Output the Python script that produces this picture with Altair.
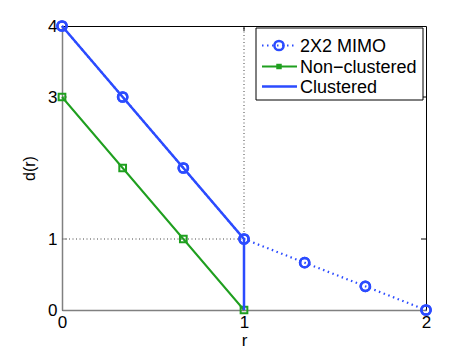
import altair as alt
import pandas as pd

# ---- data ----
r_mimo = [0, 1/3, 2/3, 1, 4/3, 5/3, 2]
d_mimo = [4, 3, 2, 1, 2/3, 1/3, 0]
r_non = [0, 1/3, 2/3, 1]
d_non = [3, 2, 1, 0]
r_clu = [0, 1, 1]
d_clu = [4, 1, 0]
x_ticks = [0, 1, 2]
y_ticks = [0, 1, 3, 4]
series_names = ["2X2 MIMO", "Non\u2212clustered", "Clustered"]

BLUE = "#2b4bff"
GREEN = "#1f9f1f"
FONT = "Liberation Sans"
W, H = 364, 284

xs = alt.Scale(domain=[0, 2], nice=False)
ys = alt.Scale(domain=[0, 4], nice=False)

mimo = pd.DataFrame({"r": r_mimo, "d": d_mimo, "o": range(len(r_mimo))})
non = pd.DataFrame({"r": r_non, "d": d_non, "o": range(len(r_non))})
clu = pd.DataFrame({"r": r_clu, "d": d_clu, "o": range(len(r_clu))})

# reference dotted lines: vertical at r=1 (d 1..4), horizontal at d=1 (r 0..1)
refs = pd.DataFrame({"r": [1, 0], "r2": [1, 1], "d": [1, 1], "d2": [4, 1]})

x_axis = alt.Axis(values=x_ticks, labelExpr="format(datum.value, '.0f')", title="r", grid=False, ticks=False,
                  labelFlush=False, labelOverlap=False, labelBound=False,
                  domainColor="#808080", domainWidth=1.5,
                  labelFontSize=17, labelPadding=4, labelFont=FONT,
                  titleFont=FONT, titleFontSize=17, titleFontWeight="normal",
                  titlePadding=2, labelColor="black", titleColor="black")
y_axis = alt.Axis(values=y_ticks, labelExpr="format(datum.value, '.0f')", title="d(r)", grid=False, ticks=False,
                  labelFlush=False, labelOverlap=False, labelBound=False,
                  domainColor="#808080", domainWidth=1.5,
                  labelFontSize=17, labelPadding=5, labelFont=FONT,
                  titleFont=FONT, titleFontSize=16, titleFontWeight="normal",
                  titlePadding=10, labelColor="black", titleColor="black")

def X(f="r:Q"):
    return alt.X(f, scale=xs, axis=x_axis)

def Y(f="d:Q"):
    return alt.Y(f, scale=ys, axis=y_axis)

ref_layer = alt.Chart(refs).mark_rule(color="#444", strokeWidth=1, strokeDash=[1, 2.5]).encode(
    x=X(), y=Y(), x2="r2:Q", y2="d2:Q")

# inward ticks
tick_y = pd.DataFrame({"d": [1, 3]})
tick_x = pd.DataFrame({"r": [1]})
left_ticks = alt.Chart(tick_y).mark_rule(color="#808080", strokeWidth=1).encode(
    y=Y(), x=alt.value(0), x2=alt.value(5))
right_ticks = alt.Chart(tick_y).mark_rule(color="black", strokeWidth=1).encode(
    y=Y(), x=alt.value(W), x2=alt.value(W - 5))
top_ticks = alt.Chart(tick_x).mark_rule(color="black", strokeWidth=1).encode(
    x=X(), y=alt.value(0), y2=alt.value(5))

mimo_line = alt.Chart(mimo).mark_line(color=BLUE, strokeWidth=2.2, strokeDash=[1.5, 3.5]).encode(
    x=X(), y=Y(), order="o:Q")
mimo_pts = alt.Chart(mimo).mark_point(shape="circle", size=85, filled=False, color=BLUE,
                                      strokeWidth=2.5, opacity=1).encode(x=X(), y=Y())
non_line = alt.Chart(non).mark_line(color=GREEN, strokeWidth=2).encode(
    x=X(), y=Y(), order="o:Q")
non_pts = alt.Chart(non).mark_point(shape="square", size=45, filled=False, color=GREEN,
                                    strokeWidth=2, opacity=1).encode(x=X(), y=Y())
clu_line = alt.Chart(clu).mark_line(color=BLUE, strokeWidth=2.5).encode(
    x=X(), y=Y(), order="o:Q")

# ---- legend (manual, MATLAB style) ----
one = alt.Data(values=[{}])
LX0, LX1, LY0, LY1 = 194, 361, 2, 74
row_y = [19.5, 40.5, 60.5]
sym_x0, sym_x1, sym_xc, txt_x = 200, 235, 217, 238

leg = [alt.Chart(one).mark_rect(fill="white", stroke="black", strokeWidth=1).encode(
    x=alt.value(LX0), x2=alt.value(LX1), y=alt.value(LY0), y2=alt.value(LY1))]
leg.append(alt.Chart(one).mark_rule(color=BLUE, strokeWidth=2.2, strokeDash=[1.5, 3.5]).encode(
    x=alt.value(sym_x0), x2=alt.value(sym_x1), y=alt.value(row_y[0])))
leg.append(alt.Chart(one).mark_point(shape="circle", size=85, filled=False, color=BLUE,
                                     strokeWidth=2.5, opacity=1).encode(
    x=alt.value(sym_xc), y=alt.value(row_y[0])))
leg.append(alt.Chart(one).mark_rule(color=GREEN, strokeWidth=2).encode(
    x=alt.value(sym_x0), x2=alt.value(sym_x1), y=alt.value(row_y[1])))
leg.append(alt.Chart(one).mark_point(shape="square", size=30, filled=True, color=GREEN,
                                     opacity=1).encode(
    x=alt.value(sym_xc), y=alt.value(row_y[1])))
leg.append(alt.Chart(one).mark_rule(color=BLUE, strokeWidth=2.5).encode(
    x=alt.value(sym_x0), x2=alt.value(sym_x1), y=alt.value(row_y[2])))
for name, yy in zip(series_names, row_y):
    leg.append(alt.Chart(one).mark_text(align="left", baseline="middle", font=FONT,
                                        fontSize=18, color="black").encode(
        x=alt.value(txt_x), y=alt.value(yy + 1), text=alt.value(name)))

chart = alt.layer(
    ref_layer, left_ticks, right_ticks, top_ticks,
    mimo_line, mimo_pts, non_line, non_pts, clu_line, mimo_pts,
    *leg
).properties(
    width=W, height=H,
    autosize=alt.AutoSizeParams(type="none"),
    padding={"left": 54, "top": 18, "right": 30, "bottom": 40},
    background="white",
).configure_view(stroke="black", strokeWidth=1)

chart.save("out.html", embed_options={"renderer": "svg", "actions": False})
